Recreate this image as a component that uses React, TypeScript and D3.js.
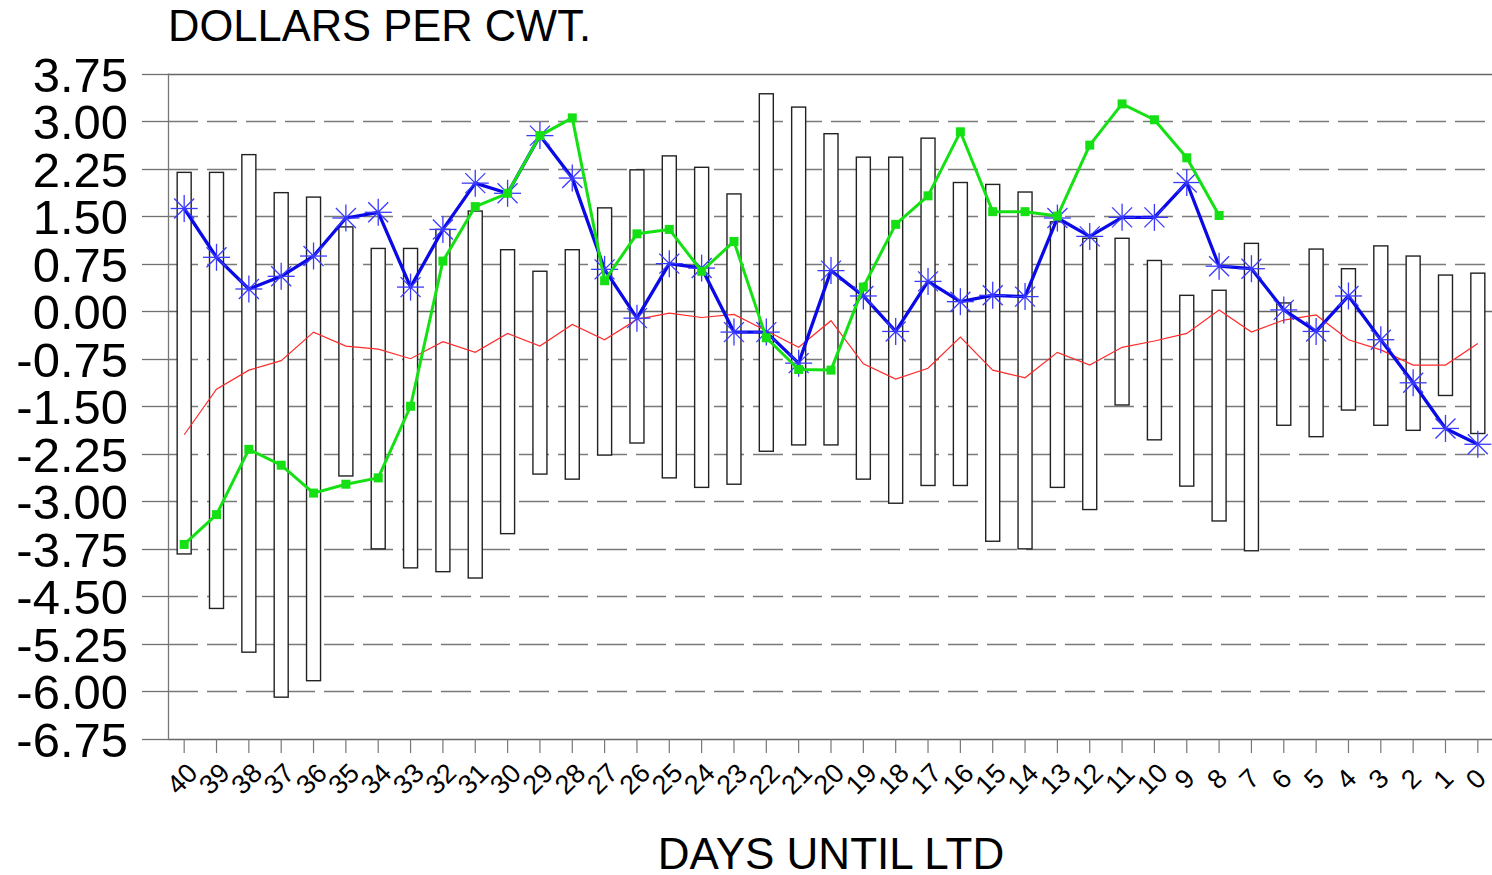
import React from "react";
import * as d3 from "d3";

const days: number[] = d3.range(40, -1, -1);

const barHigh: number[] = [2.19, 2.19, 2.47, 1.87, 1.8, 1.33, 0.99, 0.99, 1.29, 1.58, 0.97, 0.63, 0.97, 1.63, 2.23, 2.45, 2.27, 1.85, 3.43, 3.22, 2.8, 2.43, 2.43, 2.73, 2.03, 2.0, 1.88, 1.41, 1.15, 1.15, 0.8, 0.25, 0.33, 1.07, 0.13, 0.98, 0.67, 1.03, 0.87, 0.57, 0.6];
const barLow: number[] = [-3.83, -4.69, -5.38, -6.09, -5.83, -2.6, -3.75, -4.05, -4.11, -4.21, -3.51, -2.57, -2.65, -2.27, -2.08, -2.63, -2.78, -2.73, -2.21, -2.11, -2.11, -2.65, -3.03, -2.75, -2.75, -3.63, -3.75, -2.78, -3.13, -1.48, -2.03, -2.76, -3.31, -3.78, -1.8, -1.98, -1.56, -1.8, -1.88, -1.33, -1.93];
const blueSeries: number[] = [1.62, 0.85, 0.35, 0.55, 0.87, 1.47, 1.56, 0.38, 1.29, 2.02, 1.86, 2.77, 2.1, 0.66, -0.11, 0.75, 0.68, -0.33, -0.33, -0.82, 0.64, 0.24, -0.32, 0.47, 0.15, 0.25, 0.23, 1.47, 1.18, 1.48, 1.48, 2.03, 0.71, 0.67, 0.02, -0.32, 0.24, -0.45, -1.13, -1.85, -2.1];
const greenSeries: (number | null)[] = [-3.68, -3.21, -2.18, -2.43, -2.87, -2.73, -2.63, -1.5, 0.79, 1.65, 1.86, 2.77, 3.05, 0.48, 1.22, 1.29, 0.63, 1.1, -0.42, -0.92, -0.93, 0.38, 1.37, 1.82, 2.83, 1.57, 1.57, 1.5, 2.62, 3.27, 3.02, 2.42, 1.51, null, null, null, null, null, null, null, null];
const redSeries: number[] = [-1.95, -1.23, -0.93, -0.78, -0.33, -0.55, -0.6, -0.75, -0.48, -0.65, -0.35, -0.55, -0.21, -0.45, -0.13, -0.03, -0.1, -0.05, -0.31, -0.57, -0.15, -0.83, -1.07, -0.9, -0.41, -0.93, -1.05, -0.65, -0.85, -0.57, -0.47, -0.35, 0.02, -0.33, -0.14, -0.06, -0.45, -0.61, -0.85, -0.85, -0.51];
const yTicks: number[] = d3.range(0, 15).map((i) => 3.75 - i * 0.75);

const W = 1492;
const H = 875;
const L = 168;
const R = 1494;
const T = 73.5;
const B = 739;
const FONT = "'Liberation Sans', Arial, sans-serif";

export default function App() {
  const x = d3.scalePoint<number>().domain(days).range([L, R]).padding(0.5);
  const y = d3.scaleLinear().domain([-6.75, 3.75]).range([B, T]);
  const fmt = (v: number) => (Math.abs(v) < 1e-9 ? "0.00" : d3.format(".2f")(v).replace("−", "-"));

  const lineGen = d3
    .line<number | null>()
    .defined((d) => d !== null)
    .x((_, i) => x(days[i]) as number)
    .y((d) => y(d as number));

  const star = (cx: number, cy: number, k: number) => {
    const r = 13.5;
    const dg = 10;
    return (
      <g key={k} stroke="#3a3aff" strokeWidth={1.3}>
        <line x1={cx - r} y1={cy} x2={cx + r} y2={cy} />
        <line x1={cx} y1={cy - r} x2={cx} y2={cy + r} />
        <line x1={cx - dg} y1={cy - dg} x2={cx + dg} y2={cy + dg} />
        <line x1={cx - dg} y1={cy + dg} x2={cx + dg} y2={cy - dg} />
      </g>
    );
  };

  return (
    <svg width={W} height={H} style={{ position: "absolute", left: 0, top: 0, background: "#fff" }} fontFamily={FONT}>
      <rect x={0} y={0} width={W} height={H} fill="#fff" />
      {yTicks.map((t, i) => {
        const yy = Math.round(y(t)) + 0.5;
        const solid = Math.abs(t) < 1e-9 || i === 0 || i === yTicks.length - 1;
        return (
          <g key={"g" + i}>
            <line x1={142} x2={L} y1={yy} y2={yy} stroke="#707070" strokeWidth={1.3} />
            <line
              x1={L}
              x2={W}
              y1={yy}
              y2={yy}
              stroke={solid ? "#666" : "#7a7a7a"}
              strokeWidth={1.3}
              strokeDasharray={solid ? undefined : "30 9"}
            />
            <text x={128} y={yy} textAnchor="end" dominantBaseline="central" fontSize={49} fill="#000">
              {fmt(t)}
            </text>
          </g>
        );
      })}
      <line x1={L + 0.5} x2={L + 0.5} y1={T} y2={B + 1} stroke="#777" strokeWidth={1.3} />
      {days.map((d, i) => {
        const xx = x(d) as number;
        return (
          <g key={"t" + i}>
            <line x1={xx} x2={xx} y1={B} y2={B + 14} stroke="#777" strokeWidth={1.2} />
            <text
              x={xx - 2}
              y={779}
              textAnchor="middle"
              dominantBaseline="central"
              fontSize={27}
              transform={`rotate(-45 ${xx - 2} 779)`}
              fill="#000"
            >
              {d}
            </text>
          </g>
        );
      })}
      {days.map((d, i) => {
        const xx = x(d) as number;
        const top = y(barHigh[i]);
        const bot = y(barLow[i]);
        return (
          <rect
            key={"b" + i}
            x={xx - 7}
            y={top}
            width={14}
            height={bot - top}
            fill="#fff"
            stroke="#222"
            strokeWidth={1.4}
          />
        );
      })}
      <path d={lineGen(redSeries) || ""} fill="none" stroke="#ff2a2a" strokeWidth={1.2} />
      <path d={lineGen(blueSeries) || ""} fill="none" stroke="#0a0ae6" strokeWidth={3.3} strokeLinejoin="round" />
      {blueSeries.map((v, i) => star(x(days[i]) as number, y(v), i))}
      <path d={lineGen(greenSeries) || ""} fill="none" stroke="#14e014" strokeWidth={3} strokeLinejoin="round" />
      {greenSeries.map((v, i) =>
        v === null ? null : (
          <rect key={"s" + i} x={(x(days[i]) as number) - 4.5} y={y(v) - 4.5} width={9} height={9} fill="#14e014" />
        )
      )}
      <text x={168} y={41} fontSize={43.5} fill="#000">
        DOLLARS PER CWT.
      </text>
      <text x={831} y={869} fontSize={44} textAnchor="middle" fill="#000">
        DAYS UNTIL LTD
      </text>
    </svg>
  );
}
